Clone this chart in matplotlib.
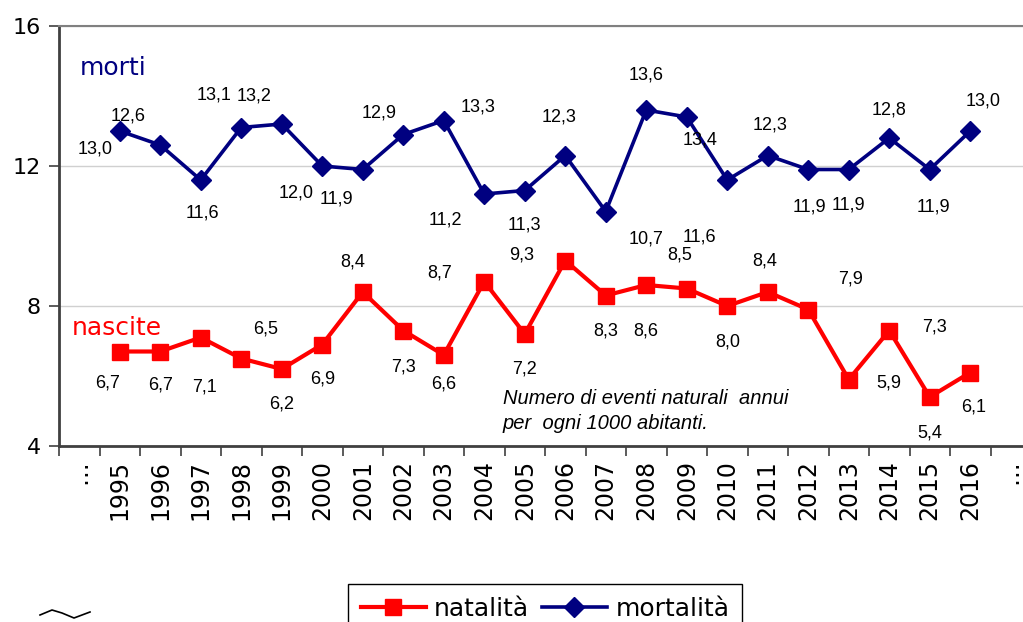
import matplotlib
matplotlib.use("Agg")
import matplotlib.pyplot as plt
from matplotlib.lines import Line2D

# data
years = [str(y) for y in range(1995, 2017)]
categories = ["\u2026"] + years + ["\u2026"]
natalita = [6.7, 6.7, 7.1, 6.5, 6.2, 6.9, 8.4, 7.3, 6.6, 8.7, 7.2,
            9.3, 8.3, 8.6, 8.5, 8.0, 8.4, 7.9, 5.9, 7.3, 5.4, 6.1]
mortalita = [13.0, 12.6, 11.6, 13.1, 13.2, 12.0, 11.9, 12.9, 13.3, 11.2, 11.3,
             12.3, 10.7, 13.6, 13.4, 11.6, 12.3, 11.9, 11.9, 12.8, 11.9, 13.0]

# label offsets in pixels (dx, dy), hand placed like in the original
mort_off = [(-25, -18), (-32, 29), (2, -33), (-27, 32), (-28, 28), (-26, -27),
            (-26, -29), (-24, 22), (34, 13), (-39, -26), (0, -34), (-6, 39),
            (40, -27), (0, 35), (13, -23), (-28, -57), (2, 31), (1, -37),
            (0, -35), (0, 28), (4, -37), (13, 30)]
nat_off = [(-12, -32), (0, -34), (4, -49), (24, 30), (0, -35), (0, -35),
           (-10, 30), (0, -36), (0, -29), (-45, 8), (0, -35), (-44, 5),
           (0, -35), (0, -46), (-7, 34), (0, -36), (-3, 31), (42, 31),
           (40, -3), (45, 4), (0, -36), (3, -34)]

red = "#ff0000"
navy = "#000080"

fig = plt.figure(figsize=(10.23, 6.22), dpi=100)
ax = fig.add_axes([59 / 1023, 1 - 446 / 622, 972 / 1023, 420 / 622])

xs = list(range(1, len(years) + 1))
ax.plot(xs, natalita, color=red, lw=3, marker="s", ms=11.5, label="natalità", zorder=3)
ax.plot(xs, mortalita, color=navy, lw=2.6, marker="D", ms=10, label="mortalità", zorder=3)

for x, v, (dx, dy) in zip(xs, mortalita, mort_off):
    ax.annotate(f"{v:.1f}".replace(".", ","), (x, v), xytext=(dx, dy),
                textcoords="offset pixels", ha="center", va="center",
                fontsize=13, family="Liberation Sans")
for x, v, (dx, dy) in zip(xs, natalita, nat_off):
    ax.annotate(f"{v:.1f}".replace(".", ","), (x, v), xytext=(dx, dy),
                textcoords="offset pixels", ha="center", va="center",
                fontsize=13, family="Liberation Sans")

ax.set_xlim(-0.5, len(categories) - 0.5)
ax.set_ylim(4, 16)
ax.set_yticks([4, 8, 12, 16])
ax.tick_params(axis="y", labelsize=16, length=7, width=1.2, color="#404040", pad=6)

ax.set_xticks(range(len(categories)))
ax.set_xticklabels(categories, rotation=90, fontsize=17)
ax.set_xticks([i - 0.5 for i in range(len(categories) + 1)], minor=True)
ax.tick_params(axis="x", which="major", length=0, pad=10)
ax.tick_params(axis="x", which="minor", length=7, width=1.2, color="#404040")

ax.grid(axis="y", color="#d0d0d0", lw=1)
ax.set_axisbelow(True)
ax.spines["right"].set_visible(False)
ax.spines["top"].set_color("#808080")
ax.spines["top"].set_linewidth(1.5)
for s in ("left", "bottom"):
    ax.spines[s].set_color("#404040")
    ax.spines[s].set_linewidth(2)

ax.text((80 - 59) / 972, 1 - (68 - 26) / 420, "morti", transform=ax.transAxes,
        color=navy, fontsize=18, va="center", ha="left")
ax.text((72 - 59) / 972, 1 - (328 - 26) / 420, "nascite", transform=ax.transAxes,
        color=red, fontsize=18, va="center", ha="left")
ax.text((503 - 59) / 972, 1 - (411 - 26) / 420,
        "Numero di eventi naturali  annui\nper  ogni 1000 abitanti.",
        transform=ax.transAxes, fontsize=14.5, style="italic",
        family="Liberation Sans", va="center", ha="left", linespacing=1.35)

fig.legend(loc="upper left", bbox_to_anchor=(348 / 1023, 1 - 584 / 622),
           ncol=2, fontsize=18, frameon=True, fancybox=False,
           edgecolor="black", framealpha=1, handlelength=2.6,
           handletextpad=0.35, columnspacing=0.5, borderpad=0.5,
           borderaxespad=0)

# small squiggle bottom left
fig.add_artist(Line2D([40 / 1023, 52 / 1023, 62 / 1023, 74 / 1023, 90 / 1023],
                      [1 - 615 / 622, 1 - 610 / 622, 1 - 613 / 622, 1 - 618 / 622, 1 - 612 / 622],
                      color="black", lw=1.2))

fig.savefig("out.png", dpi=100)
